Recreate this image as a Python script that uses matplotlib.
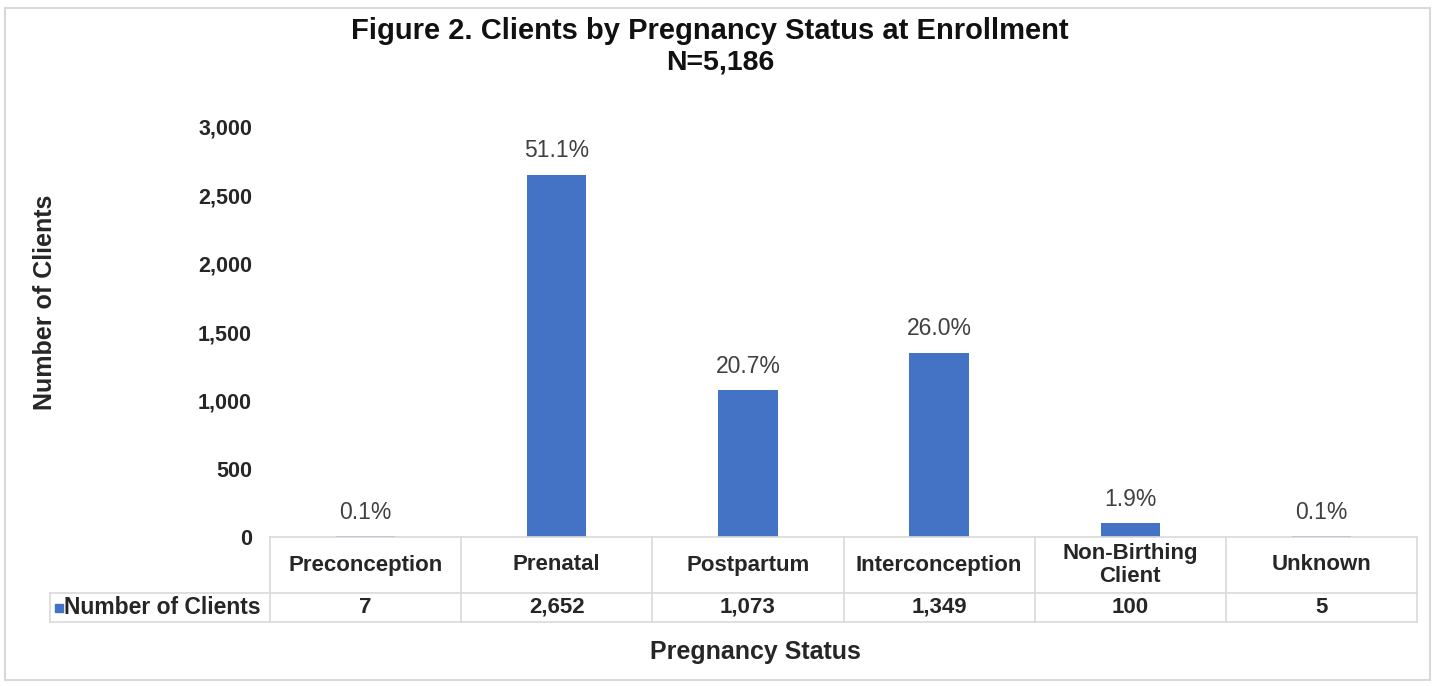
import matplotlib.pyplot as plt
from matplotlib.patches import Rectangle
from matplotlib.ticker import FuncFormatter

plt.rcParams['font.family'] = ['Liberation Sans', 'DejaVu Sans']

status = ['Preconception', 'Prenatal', 'Postpartum', 'Interconception',
          'Non-Birthing\nClient', 'Unknown']
clients = [7, 2652, 1073, 1349, 100, 5]
total_n = 5186
y_ticks = [0, 500, 1000, 1500, 2000, 2500, 3000]

bar_color = '#4472C4'
line_color = '#d9d9d9'
text_color = '#262626'
W, H = 1438, 686

fig = plt.figure(figsize=(W / 100, H / 100), dpi=100)
ax = fig.add_axes([270 / W, 1 - 537 / H, (1417 - 270) / W, (537 - 127) / H])

x = list(range(len(status)))
ax.bar(x, clients, width=0.31, color=bar_color)
for xi, v in zip(x, clients):
    ax.text(xi, v + 90, f'{v / total_n:.1%}', ha='center', va='bottom',
            fontsize=16.5, color='#404040')

ax.set_xlim(-0.5, len(status) - 0.5)
ax.set_ylim(0, 3000)
ax.set_yticks(y_ticks)
ax.yaxis.set_major_formatter(FuncFormatter(lambda v, p: f'{int(v):,}'))
ax.set_xticks([])
ax.tick_params(axis='y', length=0, pad=13, labelsize=15.5, labelcolor=text_color)
for lbl in ax.get_yticklabels():
    lbl.set_fontweight('bold')
for s in ax.spines.values():
    s.set_visible(False)

# data table under the axis: header row with categories, one row of counts
trans = ax.get_xaxis_transform()
h1 = -56 / 410
h2 = -85 / 410
px_per_cat = (1417 - 270) / len(status)
x_left = -0.5 + (50 - 270) / px_per_cat
x_right = len(status) - 0.5

line_kw = dict(color=line_color, lw=1.2, transform=trans, clip_on=False)
ax.plot([-0.5, x_right], [0, 0], **line_kw)
ax.plot([x_left, x_right], [h1, h1], **line_kw)
ax.plot([x_left, x_right], [h2, h2], **line_kw)
for i in range(len(status) + 1):
    ax.plot([i - 0.5, i - 0.5], [0, h2], **line_kw)
ax.plot([x_left, x_left], [h1, h2], **line_kw)

for xi, name, v in zip(x, status, clients):
    ax.text(xi, h1 / 2, name, ha='center', va='center', fontsize=16,
            fontweight='bold', color=text_color, linespacing=1.15,
            transform=trans)
    ax.text(xi, (h1 + h2) / 2, f'{v:,}', ha='center', va='center',
            fontsize=16, fontweight='bold', color=text_color, transform=trans)

ax.plot([-0.5 + (59 - 270) / px_per_cat], [(h1 + h2) / 2], marker='s', ms=6,
        color=bar_color, transform=trans, clip_on=False)
ax.text(-0.5 + (64 - 270) / px_per_cat, (h1 + h2) / 2, 'Number of Clients',
        ha='left', va='center', fontsize=16.5, fontweight='bold',
        color=text_color, transform=trans)

fig.text(755 / W, 1 - 652 / H, 'Pregnancy Status', ha='center', va='center',
         fontsize=18, fontweight='bold', color=text_color)
fig.text(45 / W, 1 - 302 / H, 'Number of Clients', ha='center', va='center',
         rotation=90, fontsize=18, fontweight='bold', color=text_color)

fig.text(710 / W, 1 - 31 / H, 'Figure 2. Clients by Pregnancy Status at Enrollment',
         ha='center', va='center', fontsize=21, fontweight='bold', color='#111111')
fig.text(720 / W, 1 - 63 / H, f'N={total_n:,}', ha='center', va='center',
         fontsize=20.5, fontweight='bold', color='#111111')

fig.patches.append(Rectangle((5 / W, 6 / H), (1430 - 5) / W, (678 - 6) / H,
                             transform=fig.transFigure, fill=False,
                             edgecolor=line_color, lw=1.5))

fig.savefig('out.png', dpi=100)
